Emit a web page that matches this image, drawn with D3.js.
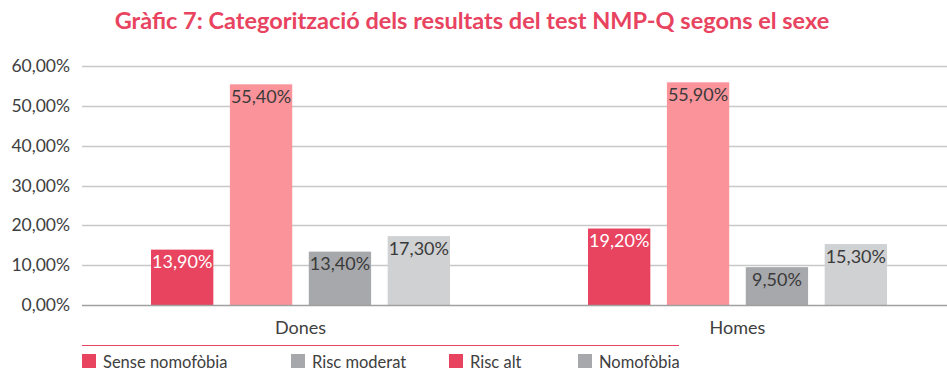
<!DOCTYPE html>
<html>
<head>
<meta charset="utf-8">
<script src="https://cdn.jsdelivr.net/npm/d3@7"></script>
<style>
  html, body { margin: 0; padding: 0; background: #fff; }
  svg { display: block; font-family: Lato, "Open Sans", sans-serif; }
</style>
</head>
<body>
<svg id="chart" width="947" height="370"></svg>
<script>
// Chart data
const title = "Gràfic 7: Categorització dels resultats del test NMP-Q segons el sexe";
const categories = ["Dones", "Homes"];
const series = ["Sense nomofòbia", "Risc moderat", "Risc alt", "Nomofòbia"];
const dones = [13.9, 55.4, 13.4, 17.3];
const homes = [19.2, 55.9, 9.5, 15.3];
const yTicks = [0, 10, 20, 30, 40, 50, 60];

// Styling
const barColors = ["#e8435f", "#fb939b", "#a7a8ab", "#d0d1d3"];
const legendColors = ["#e8435f", "#a7a8ab", "#e8435f", "#a7a8ab"];
const labelColors = ["#ffffff", "#3a3a3a", "#3a3a3a", "#3a3a3a"];
const textColor = "#404040";

const values = { Dones: dones, Homes: homes };
const fmt = v => v.toFixed(2).replace(".", ",") + "%";

const svg = d3.select("#chart");

// Scales
const x0 = d3.scaleBand().domain(categories).range([82, 956]).padding(0);
const x1 = d3.scaleBand().domain(series).range([0, x0.bandwidth()])
  .paddingInner(0.21).paddingOuter(0.875);
const y = d3.scaleLinear().domain([0, 60]).range([305, 66]);

// Title
svg.append("text")
  .attr("x", 472).attr("y", 29)
  .attr("text-anchor", "middle")
  .attr("font-size", 23.5).attr("font-weight", 700)
  .attr("fill", "#e8435f")
  .text(title);

// Gridlines
svg.append("g").selectAll("line")
  .data(yTicks.filter(t => t > 0))
  .join("line")
  .attr("x1", 82).attr("x2", 947)
  .attr("y1", d => Math.round(y(d)) + 0.5).attr("y2", d => Math.round(y(d)) + 0.5)
  .attr("stroke", "#c8c8c8").attr("stroke-width", 1.5);

// Y axis labels
const yAxis = d3.axisLeft(y).tickValues(yTicks).tickSize(0).tickPadding(12)
  .tickFormat(d => d.toFixed(2).replace(".", ",") + "%");
svg.append("g")
  .attr("transform", "translate(82,0)")
  .call(yAxis)
  .call(g => g.select(".domain").remove())
  .call(g => g.selectAll("text")
    .attr("font-size", 17.5).attr("fill", textColor)
    .attr("font-family", "Lato, sans-serif"));

// Bars
const groups = svg.append("g").selectAll("g")
  .data(categories)
  .join("g")
  .attr("transform", c => `translate(${x0(c)},0)`);

groups.selectAll("rect")
  .data(c => values[c].map((v, i) => ({ s: series[i], v, i })))
  .join("rect")
  .attr("x", d => x1(d.s))
  .attr("width", x1.bandwidth())
  .attr("y", d => y(d.v))
  .attr("height", d => y(0) - y(d.v))
  .attr("fill", d => barColors[d.i]);

groups.selectAll("text.val")
  .data(c => values[c].map((v, i) => ({ s: series[i], v, i })))
  .join("text")
  .attr("class", "val")
  .attr("x", d => x1(d.s) + x1.bandwidth() / 2)
  .attr("y", d => y(d.v) + 18.5)
  .attr("text-anchor", "middle")
  .attr("font-size", 18)
  .attr("fill", d => labelColors[d.i])
  .text(d => fmt(d.v));

// Baseline
svg.append("line")
  .attr("x1", 82).attr("x2", 947)
  .attr("y1", y(0) + 0.5).attr("y2", y(0) + 0.5)
  .attr("stroke", "#a0a0a0").attr("stroke-width", 1.5);

// Category labels
const xAxis = d3.axisBottom(x0).tickSize(0).tickPadding(16);
svg.append("g")
  .attr("transform", `translate(0,${y(0)})`)
  .call(xAxis)
  .call(g => g.select(".domain").remove())
  .call(g => g.selectAll("text")
    .attr("font-size", 18).attr("fill", textColor)
    .attr("font-family", "Lato, sans-serif"));

// Legend
svg.append("line")
  .attr("x1", 82).attr("x2", 679)
  .attr("y1", 345.5).attr("y2", 345.5)
  .attr("stroke", "#e8435f").attr("stroke-width", 1.2);

const legendX = [82, 291, 449, 578];
const legend = svg.append("g").selectAll("g")
  .data(series)
  .join("g")
  .attr("transform", (d, i) => `translate(${legendX[i]},354)`);
legend.append("rect")
  .attr("width", 14).attr("height", 14)
  .attr("fill", (d, i) => legendColors[i]);
legend.append("text")
  .attr("x", 21).attr("y", 13.5)
  .attr("font-size", 16.5).attr("fill", textColor)
  .text(d => d);
</script>
</body>
</html>
